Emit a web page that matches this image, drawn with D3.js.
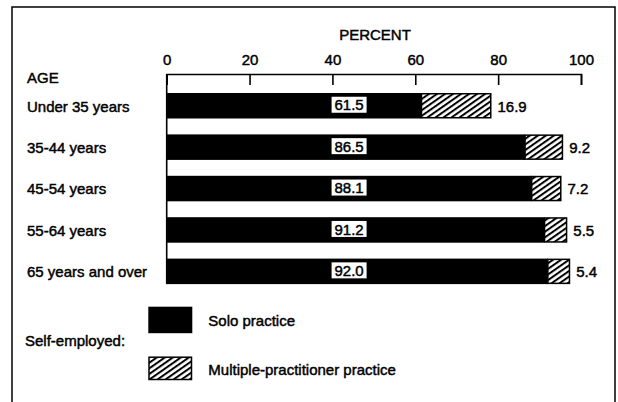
<!DOCTYPE html>
<html>
<head>
<meta charset="utf-8">
<script src="https://cdn.jsdelivr.net/npm/d3@7/dist/d3.min.js"></script>
<style>
  html, body { margin: 0; padding: 0; background: #fff; }
  svg text { font-family: "Liberation Sans", Arial, Helvetica, sans-serif; fill: #000; stroke: #000; stroke-width: 0.45px; }
</style>
</head>
<body>
<svg id="chart" width="618" height="402"></svg>
<script>
// ---- data ----
const categories = ["Under 35 years", "35-44 years", "45-54 years", "55-64 years", "65 years and over"];
const soloValues = [61.5, 86.5, 88.1, 91.2, 92.0];
const multiValues = [16.9, 9.2, 7.2, 5.5, 5.4];
const xTicks = [0, 20, 40, 60, 80, 100];
const seriesNames = ["Solo practice", "Multiple-practitioner practice"];
const legendTitle = "Self-employed:";
const axisTitle = "PERCENT";
const rowTitle = "AGE";

const svg = d3.select("#chart");

// hatch pattern
const defs = svg.append("defs");
const pat = defs.append("pattern")
  .attr("id", "hatch")
  .attr("patternUnits", "userSpaceOnUse")
  .attr("width", 4.6).attr("height", 10)
  .attr("patternTransform", "rotate(55)");
pat.append("rect").attr("width", 4.6).attr("height", 10).attr("fill", "#fff");
pat.append("line").attr("x1", 1).attr("y1", 0).attr("x2", 1).attr("y2", 10)
  .attr("stroke", "#000").attr("stroke-width", 2);

// frame
svg.append("path")
  .attr("d", "M12,410 V7 H615 V410")
  .attr("fill", "none").attr("stroke", "#000").attr("stroke-width", 1.5);

// scales
const x = d3.scaleLinear().domain([0, 100]).range([166.7, 581]);
const y = d3.scaleBand().domain(categories).range([77.1, 300]).paddingInner(0.384).paddingOuter(0.384);

// axis
const axisY = 74;
const axis = d3.axisTop(x).tickValues(xTicks).tickSizeInner(-11).tickSizeOuter(-11).tickPadding(9.5)
  .tickFormat(d3.format("d"));
const gAxis = svg.append("g").attr("transform", `translate(0,${axisY})`).call(axis);
gAxis.selectAll("path, line").attr("stroke", "#000").attr("stroke-width", 1.6);
gAxis.selectAll("text").attr("font-size", 15)
  .style("font-family", '"Liberation Sans", Arial, sans-serif').attr("fill", "#000");

// left baseline
svg.append("line")
  .attr("x1", x(0)).attr("x2", x(0))
  .attr("y1", axisY).attr("y2", y(categories[categories.length - 1]) + y.bandwidth())
  .attr("stroke", "#000").attr("stroke-width", 1.6);

// titles
svg.append("text").attr("x", 375).attr("y", 40).attr("text-anchor", "middle")
  .attr("font-size", 15).text(axisTitle);
svg.append("text").attr("x", 27).attr("y", 83).attr("font-size", 15).text(rowTitle);

// rows
const rows = categories.map((c, i) => ({ c, solo: soloValues[i], multi: multiValues[i] }));
const g = svg.append("g");
rows.forEach(r => {
  const top = y(r.c), h = y.bandwidth(), cy = top + h / 2;
  g.append("rect").attr("x", x(0)).attr("y", top)
    .attr("width", x(r.solo) - x(0)).attr("height", h).attr("fill", "#000");
  g.append("rect").attr("x", x(r.solo)).attr("y", top + 0.75)
    .attr("width", x(r.solo + r.multi) - x(r.solo) - 0.75).attr("height", h - 1.5)
    .attr("fill", "url(#hatch)").attr("stroke", "#000").attr("stroke-width", 1.5);
  // category label
  svg.append("text").attr("x", 27).attr("y", cy + 5.8).attr("font-size", 15).text(r.c);
  // solo value box
  const bx = x(39.8);
  g.append("rect").attr("x", bx).attr("y", cy - 9).attr("width", 35).attr("height", 16).attr("fill", "#fff");
  g.append("text").attr("x", bx + 17.5).attr("y", cy + 4.6).attr("text-anchor", "middle")
    .attr("font-size", 15).text(r.solo.toFixed(1));
  // multi value
  g.append("text").attr("x", x(r.solo + r.multi) + 6).attr("y", cy + 5.8)
    .attr("font-size", 15).text(r.multi.toFixed(1));
});

// legend
const lg = svg.append("g");
lg.append("text").attr("x", 25).attr("y", 346).attr("font-size", 15).text(legendTitle);
lg.append("rect").attr("x", 148.3).attr("y", 306.7).attr("width", 44).attr("height", 26.5).attr("fill", "#000");
lg.append("text").attr("x", 208.3).attr("y", 325.7).attr("font-size", 15).text(seriesNames[0]);
lg.append("rect").attr("x", 149).attr("y", 357.2).attr("width", 42.5).attr("height", 22.3)
  .attr("fill", "url(#hatch)").attr("stroke", "#000").attr("stroke-width", 1.5);
lg.append("text").attr("x", 208.3).attr("y", 375).attr("font-size", 15).text(seriesNames[1]);
</script>
</body>
</html>
